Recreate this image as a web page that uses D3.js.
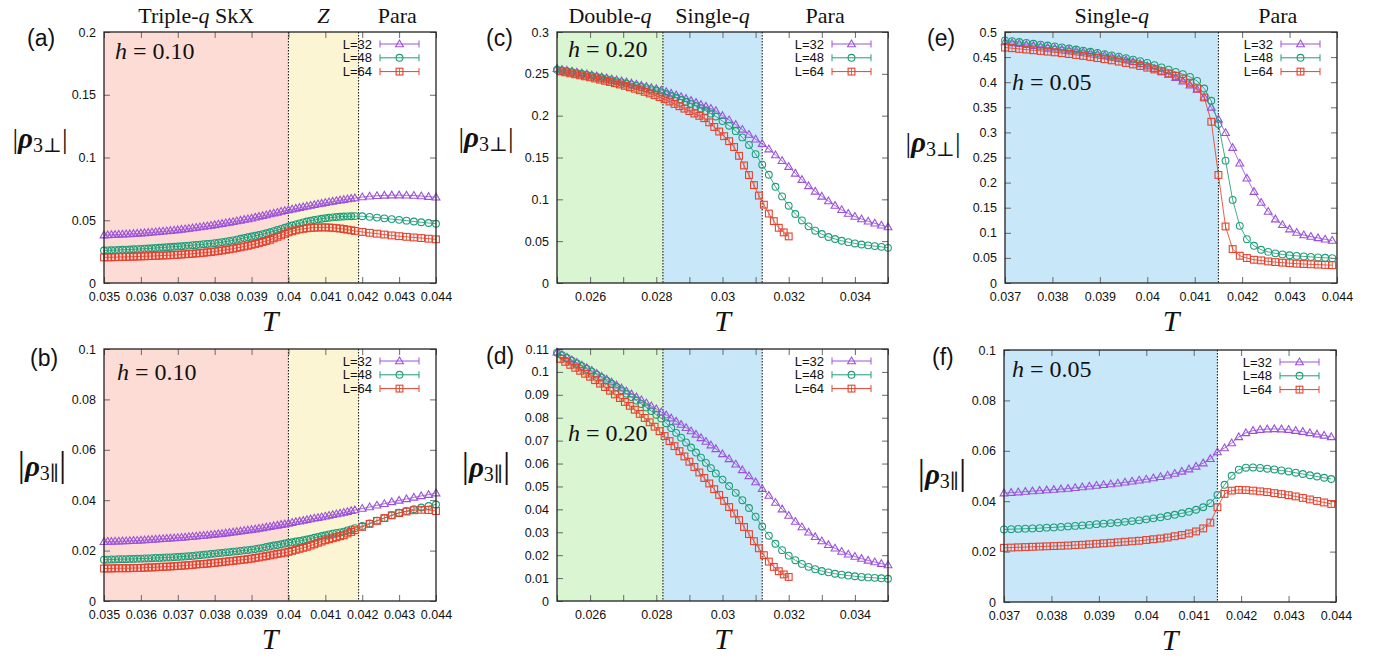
<!DOCTYPE html>
<html><head><meta charset="utf-8">
<script src="https://cdn.jsdelivr.net/npm/d3@7"></script>
<style>body{margin:0;background:#fff;}svg{display:block;}</style>
</head><body>
<svg id="chart" width="1386" height="658"></svg>
<script>
// ---------------- DATA ----------------
const seriesNames = ["L=32", "L=48", "L=64"];

// panels (a),(b): h = 0.10
const Ta = [0.0350,0.0351,0.0352,0.0353,0.0354,0.0355,0.0356,0.0357,0.0358,0.0359,
0.0360,0.0361,0.0362,0.0363,0.0364,0.0365,0.0366,0.0367,0.0368,0.0369,
0.0370,0.0371,0.0372,0.0373,0.0374,0.0375,0.0376,0.0377,0.0378,0.0379,
0.0380,0.0381,0.0382,0.0383,0.0384,0.0385,0.0386,0.0387,0.0388,0.0389,
0.0390,0.0391,0.0392,0.0393,0.0394,0.0395,0.0396,0.0397,0.0398,0.0399,
0.0400,0.0401,0.0402,0.0403,0.0404,0.0405,0.0406,0.0407,0.0408,0.0409,
0.0410,0.0411,0.0412,0.0413,0.0414,0.0415,0.0416,0.0417,0.0418,
0.0420,0.0422,0.0424,0.0426,0.0428,0.0430,0.0432,0.0434,0.0436,0.0438,0.0440];

const a32 = [.0381,.0382,.0384,.0385,.0387,.0388,.0390,.0391,.0393,.0395,
.0397,.0399,.0401,.0404,.0406,.0409,.0412,.0414,.0417,.0420,
.0423,.0427,.0430,.0434,.0438,.0442,.0446,.0450,.0454,.0458,
.0463,.0468,.0473,.0478,.0483,.0488,.0494,.0499,.0505,.0510,
.0516,.0523,.0529,.0536,.0542,.0549,.0556,.0562,.0569,.0575,
.0582,.0588,.0594,.0600,.0606,.0612,.0617,.0623,.0629,.0634,
.0640,.0645,.0650,.0655,.0660,.0664,.0669,.0673,.0677,
.0685,.0691,.0695,.0698,.0700,.0700,.0699,.0697,.0693,.0688,.0683];
const a48 = [.0259,.0260,.0261,.0262,.0263,.0265,.0266,.0267,.0269,.0270,
.0272,.0274,.0275,.0277,.0279,.0281,.0283,.0285,.0287,.0289,
.0291,.0293,.0296,.0298,.0301,.0303,.0306,.0309,.0311,.0314,
.0317,.0321,.0325,.0330,.0335,.0340,.0346,.0352,.0358,.0364,
.0370,.0376,.0382,.0389,.0396,.0404,.0413,.0422,.0431,.0440,
.0449,.0458,.0467,.0475,.0483,.0490,.0496,.0502,.0507,.0512,
.0516,.0520,.0523,.0526,.0528,.0530,.0531,.0532,.0533,
.0532,.0527,.0521,.0515,.0509,.0503,.0497,.0490,.0484,.0478,.0472];
const a64 = [.0204,.0205,.0205,.0206,.0207,.0208,.0208,.0209,.0210,.0211,
.0212,.0213,.0214,.0215,.0216,.0218,.0219,.0220,.0222,.0223,
.0225,.0227,.0229,.0231,.0233,.0236,.0238,.0241,.0244,.0247,
.0251,.0255,.0259,.0264,.0269,.0274,.0280,.0285,.0291,.0297,
.0304,.0311,.0319,.0327,.0335,.0344,.0356,.0368,.0380,.0392,
.0403,.0412,.0420,.0427,.0432,.0436,.0439,.0441,.0442,.0443,
.0443,.0442,.0440,.0437,.0434,.0430,.0425,.0420,.0415,
.0407,.0400,.0393,.0386,.0379,.0373,.0368,.0363,.0358,.0353,.0348];

const b32 = [.0235,.0236,.0236,.0237,.0237,.0238,.0238,.0239,.0240,.0240,
.0241,.0242,.0243,.0244,.0245,.0246,.0247,.0248,.0249,.0250,
.0251,.0252,.0253,.0255,.0256,.0257,.0259,.0260,.0261,.0263,
.0264,.0266,.0267,.0269,.0271,.0273,.0275,.0277,.0279,.0281,
.0283,.0285,.0288,.0290,.0293,.0295,.0298,.0300,.0303,.0305,
.0308,.0311,.0314,.0316,.0319,.0322,.0325,.0328,.0330,.0333,
.0336,.0339,.0342,.0345,.0348,.0351,.0354,.0358,.0361,
.0367,.0373,.0380,.0386,.0393,.0399,.0405,.0411,.0417,.0422,.0428];
const b48 = [.0164,.0164,.0165,.0165,.0166,.0166,.0166,.0167,.0167,.0168,
.0168,.0169,.0169,.0170,.0171,.0171,.0172,.0173,.0173,.0174,
.0175,.0176,.0177,.0178,.0179,.0181,.0182,.0184,.0185,.0187,
.0188,.0190,.0191,.0193,.0194,.0196,.0197,.0199,.0201,.0202,
.0204,.0206,.0209,.0211,.0214,.0217,.0220,.0222,.0225,.0228,
.0231,.0233,.0236,.0238,.0241,.0244,.0247,.0251,.0254,.0258,
.0261,.0264,.0267,.0270,.0272,.0275,.0280,.0284,.0289,
.0298,.0308,.0319,.0329,.0340,.0350,.0357,.0364,.0371,.0377,.0383];
const b64 = [.0129,.0129,.0129,.0130,.0130,.0130,.0130,.0130,.0131,.0131,
.0131,.0132,.0133,.0133,.0134,.0135,.0136,.0136,.0137,.0138,
.0139,.0140,.0141,.0142,.0143,.0145,.0146,.0147,.0148,.0150,
.0151,.0153,.0154,.0156,.0158,.0159,.0161,.0163,.0164,.0166,
.0168,.0171,.0173,.0176,.0178,.0181,.0184,.0187,.0189,.0192,
.0195,.0199,.0203,.0207,.0211,.0215,.0220,.0225,.0231,.0236,
.0241,.0245,.0249,.0253,.0257,.0261,.0268,.0274,.0281,
.0294,.0306,.0318,.0329,.0340,.0349,.0355,.0360,.0362,.0361,.0357];

// panels (c),(d): h = 0.20
const Tc = [0.02500,0.02515,0.02530,0.02545,0.02560,0.02575,0.02590,0.02605,0.02620,0.02635,
0.02650,0.02665,0.02680,0.02695,0.02710,0.02725,0.02740,0.02755,0.02770,0.02785,
0.02800,0.02815,0.02830,0.02845,0.02860,0.02875,0.02890,0.02905,0.02920,0.02935,
0.02950,0.02965,0.02980,
0.0300,0.0302,0.0304,0.0306,0.0308,0.0310,0.0312,0.0314,0.0316,0.0318,
0.0320,0.0322,0.0324,0.0326,0.0328,0.0330,0.0332,0.0334,0.0336,0.0338,
0.0340,0.0342,0.0344,0.0346,0.0348,0.0350];
const Tc64 = [0.02510,0.02525,0.02540,0.02555,0.02570,0.02585,0.02600,0.02615,0.02630,0.02645,
0.02660,0.02675,0.02690,0.02705,0.02720,0.02735,0.02750,0.02765,0.02780,0.02795,
0.02810,0.02825,0.02840,0.02855,0.02870,0.02885,0.02900,0.02915,0.02930,0.02945,
0.02960,0.02975,0.02990,0.03005,0.03020,0.03035,0.03050,0.03065,0.03080,0.03095,
0.03110,0.03125,0.03140,0.03155,0.03170,0.03185,0.03200];

const c32 = [.2562,.2552,.2541,.2531,.2519,.2508,.2497,.2486,.2474,.2462,
.2450,.2438,.2426,.2414,.2401,.2388,.2375,.2361,.2348,.2334,
.2320,.2303,.2285,.2266,.2246,.2225,.2203,.2180,.2156,.2131,
.2110,.2085,.2058,
.2000,.1948,.1892,.1835,.1775,.1718,.1665,.1600,.1530,.1460,
.1390,.1310,.1235,.1160,.1095,.1035,.0980,.0925,.0875,.0830,
.0795,.0765,.0738,.0714,.0690,.0668];
const c48 = [.2550,.2540,.2530,.2520,.2509,.2498,.2487,.2476,.2463,.2450,
.2437,.2423,.2410,.2397,.2383,.2370,.2356,.2342,.2328,.2314,
.2300,.2280,.2259,.2237,.2214,.2190,.2166,.2141,.2114,.2086,
.2056,.2024,.1990,
.1935,.1880,.1815,.1740,.1650,.1540,.1414,.1294,.1150,.1035,
.0924,.0825,.0748,.0677,.0625,.0585,.0550,.0526,.0505,.0488,
.0473,.0460,.0450,.0441,.0432,.0420];
const c64 = [.2530,.2518,.2506,.2494,.2482,.2470,.2458,.2445,.2431,.2417,
.2403,.2388,.2373,.2357,.2340,.2322,.2304,.2285,.2265,.2244,
.2222,.2196,.2169,.2141,.2113,.2084,.2055,.2026,.1998,.1970,
.1920,.1865,.1810,.1755,.1695,.1625,.1520,.1405,.1290,.1170,
.1045,.0936,.0830,.0740,.0660,.0605,.0557];

const d32 = [.1086,.1075,.1064,.1052,.1041,.1029,.1018,.1006,.0993,.0980,
.0968,.0955,.0942,.0929,.0916,.0903,.0890,.0877,.0864,.0851,
.0838,.0825,.0812,.0798,.0784,.0770,.0756,.0742,.0727,.0712,
.0696,.0680,.0664,
.0642,.0620,.0597,.0572,.0546,.0519,.0490,.0460,.0430,.0401,
.0373,.0347,.0323,.0300,.0280,.0262,.0245,.0230,.0216,.0204,
.0194,.0185,.0177,.0170,.0163,.0157];
const d48 = [.1084,.1073,.1061,.1049,.1037,.1025,.1013,.1001,.0988,.0975,
.0962,.0948,.0934,.0920,.0905,.0890,.0875,.0860,.0845,.0829,
.0813,.0797,.0776,.0755,.0734,.0713,.0692,.0670,.0648,.0626,
.0603,.0580,.0557,
.0530,.0502,.0472,.0440,.0406,.0368,.0325,.0285,.0250,.0222,
.0198,.0178,.0162,.0149,.0139,.0131,.0125,.0119,.0115,.0111,
.0108,.0105,.0103,.0101,.0099,.0097];
const d64 = [.1057,.1044,.1031,.1018,.1005,.0992,.0979,.0964,.0949,.0934,
.0918,.0902,.0886,.0869,.0852,.0835,.0817,.0799,.0780,.0761,
.0741,.0720,.0698,.0676,.0654,.0631,.0608,.0585,.0561,.0537,
.0513,.0488,.0463,.0437,.0410,.0382,.0353,.0323,.0292,.0261,
.0230,.0200,.0172,.0149,.0130,.0116,.0105];

// panels (e),(f): h = 0.05
const Te = [0.03700,0.03715,0.03730,0.03745,0.03760,0.03775,0.03790,0.03805,0.03820,0.03835,
0.03850,0.03865,0.03880,0.03895,0.03910,0.03925,0.03940,0.03955,0.03970,0.03985,
0.04000,0.04015,0.04030,0.04045,0.04060,0.04075,0.04090,0.04105,0.04120,0.04135,
0.04150,0.04165,0.04180,0.04195,0.04210,0.04225,0.04240,0.04255,0.04270,0.04285,
0.04300,0.04315,0.04330,0.04345,0.04360,0.04375,0.04390];

const e32 = [.4800,.4782,.4764,.4746,.4728,.4710,.4692,.4674,.4656,.4638,
.4620,.4601,.4582,.4557,.4530,.4502,.4472,.4440,.4405,.4365,
.4320,.4270,.4215,.4155,.4090,.4020,.3940,.3855,.3700,.3497,
.3260,.2993,.2695,.2385,.2087,.1820,.1602,.1423,.1272,.1159,
.1073,.1006,.0955,.0925,.0898,.0870,.0845];
const e48 = [.4834,.4817,.4800,.4782,.4765,.4747,.4730,.4712,.4692,.4671,
.4650,.4629,.4607,.4585,.4560,.4535,.4508,.4480,.4450,.4418,
.4384,.4340,.4295,.4250,.4205,.4160,.4106,.4026,.3875,.3629,
.3166,.2437,.1655,.1138,.0874,.0741,.0662,.0620,.0590,.0570,
.0553,.0540,.0530,.0520,.0510,.0502,.0495];
const e64 = [.4690,.4677,.4663,.4650,.4636,.4623,.4609,.4595,.4578,.4561,
.4543,.4524,.4503,.4480,.4458,.4435,.4410,.4383,.4354,.4323,
.4290,.4254,.4215,.4172,.4125,.4072,.3990,.3875,.3696,.3212,
.2152,.1126,.0676,.0543,.0497,.0463,.0450,.0430,.0417,.0405,
.0395,.0385,.0378,.0372,.0366,.0360,.0355];

const f32 = [.0432,.0434,.0436,.0438,.0440,.0442,.0444,.0446,.0448,.0450,
.0453,.0456,.0459,.0462,.0465,.0468,.0471,.0475,.0479,.0483,
.0487,.0492,.0497,.0503,.0510,.0518,.0527,.0538,.0551,.0568,
.0595,.0611,.0631,.0655,.0671,.0680,.0684,.0686,.0687,.0686,
.0684,.0680,.0676,.0671,.0666,.0661,.0655];
const f48 = [.0288,.0289,.0290,.0291,.0292,.0293,.0295,.0296,.0298,.0300,
.0302,.0304,.0306,.0309,.0311,.0313,.0315,.0318,.0321,.0324,
.0328,.0332,.0336,.0341,.0346,.0352,.0358,.0366,.0376,.0392,
.0425,.0465,.0501,.0525,.0533,.0534,.0532,.0529,.0526,.0522,
.0518,.0513,.0508,.0503,.0498,.0493,.0488];
const f64 = [.0215,.0216,.0217,.0218,.0219,.0220,.0221,.0222,.0223,.0224,
.0226,.0227,.0229,.0231,.0233,.0235,.0237,.0239,.0241,.0243,
.0246,.0249,.0252,.0256,.0261,.0266,.0272,.0280,.0292,.0315,
.0376,.0429,.0442,.0445,.0444,.0442,.0439,.0436,.0432,.0428,
.0424,.0419,.0413,.0407,.0401,.0395,.0389];

// axis ticks
const xTicksAB = [0.035,0.036,0.037,0.038,0.039,0.040,0.041,0.042,0.043,0.044];
const xTicksCD = [0.025,0.026,0.027,0.028,0.029,0.030,0.031,0.032,0.033,0.034,0.035];
const xLabelsCD = [0.026,0.028,0.030,0.032,0.034];
const xTicksEF = [0.037,0.038,0.039,0.040,0.041,0.042,0.043,0.044];
const yTicksA = [0,0.05,0.1,0.15,0.2];
const yTicksB = [0,0.02,0.04,0.06,0.08,0.1];
const yTicksC = [0,0.05,0.1,0.15,0.2,0.25,0.3];
const yTicksD = [0,0.01,0.02,0.03,0.04,0.05,0.06,0.07,0.08,0.09,0.1,0.11];
const yTicksE = [0,0.05,0.1,0.15,0.2,0.25,0.3,0.35,0.4,0.45,0.5];
const yTicksF = [0,0.02,0.04,0.06,0.08,0.1];

// phase boundaries and names
const boundsAB = [0.035, 0.040, 0.0419, 0.044];
const phasesAB = ["Triple-q SkX", "Z", "Para"];
const boundsCD = [0.025, 0.0282, 0.0312, 0.035];
const phasesCD = ["Double-q", "Single-q", "Para"];
const boundsEF = [0.037, 0.0415, 0.044];
const phasesEF = ["Single-q", "Para"];
const fieldAB = "0.10", fieldCD = "0.20", fieldEF = "0.05";

// ---------------- STYLE / LAYOUT ----------------
const colors = ["#9b52da", "#1f9d78", "#e4432f"];
const shapes = ["tri", "circ", "sq"];
const fillsAB = ["#fddcd5", "#fcf5d4", null];
const fillsCD = ["#daf5d1", "#c8e7f9", null];
const fillsEF = ["#c8e7f9", null];

const panels = [
  {lab:"(a)", box:[104,32,436,283], xd:[0.035,0.044], yd:[0,0.2], xt:xTicksAB, xl:xTicksAB, yt:yTicksA,
   T:[Ta,Ta,Ta], V:[a32,a48,a64], bounds:boundsAB, fills:fillsAB, phases:phasesAB, h:fieldAB, sub:"⊥",
   labPos:[27,46], hPos:[115,59], yPos:[40,148], barSize:28},
  {lab:"(b)", box:[104,349,436,601], xd:[0.035,0.044], yd:[0,0.1], xt:xTicksAB, xl:xTicksAB, yt:yTicksB,
   T:[Ta,Ta,Ta], V:[b32,b48,b64], bounds:boundsAB, fills:fillsAB, phases:null, h:fieldAB, sub:"∥",
   labPos:[30,366], hPos:[117,380], yPos:[42,476], barSize:36},
  {lab:"(c)", box:[557,32,888,283], xd:[0.025,0.035], yd:[0,0.3], xt:xTicksCD, xl:xLabelsCD, yt:yTicksC,
   T:[Tc,Tc,Tc64], V:[c32,c48,c64], bounds:boundsCD, fills:fillsCD, phases:phasesCD, h:fieldCD, sub:"⊥",
   labPos:[486,46], hPos:[568,57], yPos:[486,147], barSize:28},
  {lab:"(d)", box:[557,349,888,601], xd:[0.025,0.035], yd:[0,0.11], xt:xTicksCD, xl:xLabelsCD, yt:yTicksD,
   T:[Tc,Tc,Tc64], V:[d32,d48,d64], bounds:boundsCD, fills:fillsCD, phases:null, h:fieldCD, sub:"∥",
   labPos:[486,364], hPos:[568,441], yPos:[486,477], barSize:36},
  {lab:"(e)", box:[1005,32,1337,283], xd:[0.037,0.044], yd:[0,0.5], xt:xTicksEF, xl:xTicksEF, yt:yTicksE,
   T:[Te,Te,Te], V:[e32,e48,e64], bounds:boundsEF, fills:fillsEF, phases:phasesEF, h:fieldEF, sub:"⊥",
   labPos:[927,46], hPos:[1012,90], yPos:[933,152], barSize:28},
  {lab:"(f)", box:[1004,350,1336,602], xd:[0.037,0.044], yd:[0,0.1], xt:xTicksEF, xl:xTicksEF, yt:yTicksF,
   T:[Te,Te,Te], V:[f32,f48,f64], bounds:boundsEF, fills:fillsEF, phases:null, h:fieldEF, sub:"∥",
   labPos:[932,365], hPos:[1012,377], yPos:[942,484], barSize:36}
];

const SANS = "'Liberation Sans', Arial, Helvetica, sans-serif";
const SERIF = "'Liberation Serif', 'DejaVu Serif', 'Times New Roman', serif";
const svg = d3.select("#chart");
const fmt = v => String(+v.toFixed(4));

function marker(g, shape, cx, cy, color) {
  if (shape === "tri") {
    g.append("path").attr("d", `M${cx},${cy-4}L${cx+3.9},${cy+2.7}L${cx-3.9},${cy+2.7}Z`)
      .attr("fill", "none").attr("stroke", color).attr("stroke-width", 1.1);
  } else if (shape === "circ") {
    g.append("circle").attr("cx", cx).attr("cy", cy).attr("r", 3.4)
      .attr("fill", "none").attr("stroke", color).attr("stroke-width", 1.1);
  } else {
    g.append("rect").attr("x", cx-3.4).attr("y", cy-3.4).attr("width", 6.8).attr("height", 6.8)
      .attr("fill", "none").attr("stroke", color).attr("stroke-width", 1.1);
    g.append("line").attr("x1", cx).attr("x2", cx).attr("y1", cy-3.4).attr("y2", cy+3.4)
      .attr("stroke", color).attr("stroke-width", 0.8);
  }
}

function drawPanel(P) {
  const [x0, y0, x1, y1] = P.box;
  const g = svg.append("g");
  const x = d3.scaleLinear().domain(P.xd).range([x0, x1]);
  const y = d3.scaleLinear().domain(P.yd).range([y1, y0]);

  // phase regions
  P.bounds.forEach((b, i) => {
    if (i < P.bounds.length - 1 && P.fills[i]) {
      g.append("rect").attr("x", x(b)).attr("y", y0)
        .attr("width", x(P.bounds[i+1]) - x(b)).attr("height", y1 - y0)
        .attr("fill", P.fills[i]);
    }
  });

  // axes with inward ticks on all sides
  const styleAxis = sel => {
    sel.select(".domain").remove();
    sel.selectAll(".tick line").attr("stroke", "#6a6a6a").attr("stroke-width", 1);
    sel.selectAll(".tick text").attr("font-family", SANS).attr("font-size", 12.5).attr("fill", "#111");
  };
  const isLab = v => P.xl.some(l => Math.abs(l - v) < 1e-9);
  g.append("g").attr("transform", `translate(0,${y1})`)
    .call(d3.axisBottom(x).tickValues(P.xt).tickFormat(v => isLab(v) ? fmt(v) : "")
      .tickSizeInner(-6).tickSizeOuter(0).tickPadding(9.2)).call(styleAxis);
  g.append("g").attr("transform", `translate(0,${y0})`)
    .call(d3.axisTop(x).tickValues(P.xt).tickFormat("").tickSizeInner(-6).tickSizeOuter(0)).call(styleAxis);
  g.append("g").attr("transform", `translate(${x0},0)`)
    .call(d3.axisLeft(y).tickValues(P.yt).tickFormat(fmt).tickSizeInner(-6).tickSizeOuter(0).tickPadding(8)).call(styleAxis);
  g.append("g").attr("transform", `translate(${x1},0)`)
    .call(d3.axisRight(y).tickValues(P.yt).tickFormat("").tickSizeInner(-6).tickSizeOuter(0)).call(styleAxis);

  // dotted phase boundaries
  P.bounds.slice(1, -1).forEach(b => {
    g.append("line").attr("x1", x(b)).attr("x2", x(b)).attr("y1", y0).attr("y2", y1)
      .attr("stroke", "#222").attr("stroke-width", 1.1).attr("stroke-dasharray", "1.5,1.5");
  });

  // series
  P.V.forEach((vals, i) => {
    const Ts = P.T[i];
    const n = Math.min(Ts.length, vals.length);
    if (Ts.length !== vals.length) console.warn(P.lab, i, Ts.length, vals.length);
    const pts = d3.range(n).map(j => [x(Ts[j]), y(vals[j])]);
    const sg = g.append("g");
    sg.append("path").attr("d", d3.line()(pts)).attr("fill", "none")
      .attr("stroke", colors[i]).attr("stroke-width", 1).attr("stroke-opacity", 0.85);
    pts.forEach(p => marker(sg, shapes[i], p[0], p[1], colors[i]));
  });

  // legend
  seriesNames.forEach((name, i) => {
    const ly = y0 + 12 + i * 13.8;
    g.append("text").attr("x", x1 - 64).attr("y", ly + 4.5).attr("text-anchor", "end")
      .attr("font-family", SANS).attr("font-size", 13).attr("fill", "#111").text(name);
    const lx1 = x1 - 56, lx2 = x1 - 17;
    g.append("line").attr("x1", lx1).attr("x2", lx2).attr("y1", ly).attr("y2", ly)
      .attr("stroke", colors[i]).attr("stroke-width", 1);
    [lx1, lx2].forEach(cx => g.append("line").attr("x1", cx).attr("x2", cx)
      .attr("y1", ly - 3.5).attr("y2", ly + 3.5).attr("stroke", colors[i]).attr("stroke-width", 1));
    marker(g, shapes[i], (lx1 + lx2) / 2, ly, colors[i]);
  });

  // border
  g.append("rect").attr("x", x0).attr("y", y0).attr("width", x1 - x0).attr("height", y1 - y0)
    .attr("fill", "none").attr("stroke", "#222").attr("stroke-width", 1.3);

  // panel label
  g.append("text").attr("x", P.labPos[0]).attr("y", P.labPos[1]).attr("font-family", SANS)
    .attr("font-size", 23).attr("fill", "#111").text(P.lab);

  // field label h = ...
  const ht = g.append("text").attr("x", P.hPos[0]).attr("y", P.hPos[1]).attr("font-family", SERIF)
    .attr("font-size", 24).attr("fill", "#111");
  ht.append("tspan").attr("font-style", "italic").text("h");
  ht.append("tspan").text(" = " + P.h);

  // y label |ρ3⊥| / |ρ3∥|
  const yl = g.append("text").attr("x", P.yPos[0]).attr("y", P.yPos[1]).attr("text-anchor", "middle")
    .attr("font-family", SERIF).attr("fill", "#111");
  yl.append("tspan").attr("font-size", P.barSize).attr("font-weight", "300").text("|");
  yl.append("tspan").attr("font-size", 29).attr("font-weight", "bold").attr("font-style", "italic").text("ρ");
  yl.append("tspan").attr("font-size", 20).attr("dy", 4).text("3" + P.sub);
  yl.append("tspan").attr("font-size", P.barSize).attr("dy", -4).text("|");

  // x label
  g.append("text").attr("x", (x0 + x1) / 2).attr("y", y1 + 48).attr("text-anchor", "middle")
    .attr("font-family", SERIF).attr("font-style", "italic").attr("font-size", 30).attr("fill", "#111").text("T");

  // phase titles
  if (P.phases) {
    P.phases.forEach((name, i) => {
      const cx = (x(P.bounds[i]) + x(P.bounds[i+1])) / 2;
      const t = g.append("text").attr("x", cx).attr("y", 23).attr("text-anchor", "middle")
        .attr("font-family", SERIF).attr("font-size", 22).attr("fill", "#111");
      name.split(/(q(?= |$)|^Z$)/).filter(s => s !== "" && s !== undefined).forEach(part => {
        const ts = t.append("tspan").text(part);
        if (part === "q" || part === "Z") ts.attr("font-style", "italic");
      });
    });
  }
}

panels.forEach(drawPanel);
</script>
</body></html>
